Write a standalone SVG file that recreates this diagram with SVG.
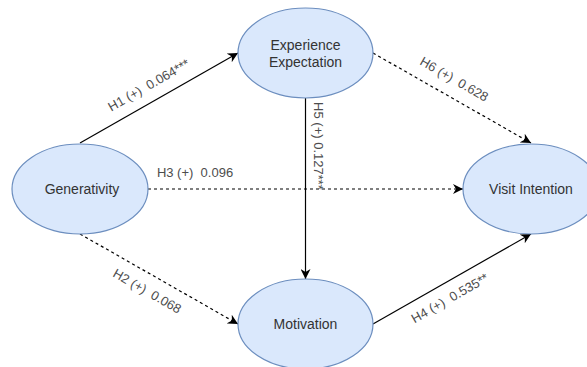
<svg xmlns="http://www.w3.org/2000/svg" width="587" height="367" viewBox="0 0 587 367">
<defs>
<marker id="arr" viewBox="0 0 10 10" refX="10" refY="5" markerWidth="10" markerHeight="10" markerUnits="userSpaceOnUse" orient="auto">
<path d="M0,0 L10,5 L0,10 L3,5 Z" fill="#000"/>
</marker>
<style>
.node{fill:#dae8fc;stroke:#6c8ebf;stroke-width:1.2}
.nt{font-family:"Liberation Sans",Arial,sans-serif;font-size:14px;fill:#333;text-anchor:middle}
.lt{font-family:"Liberation Sans",Arial,sans-serif;font-size:13px;fill:#4d4d4d;text-anchor:middle;white-space:pre}
.c{stroke:#000;stroke-width:1.2;fill:none;marker-end:url(#arr)}
.d{stroke-dasharray:3 3}
</style>
</defs>
<rect width="587" height="367" fill="#fff"/>
<g id="connectors">
<line class="c" x1="80" y1="143" x2="238" y2="53"/>
<line class="c d" x1="373" y1="53" x2="531" y2="143"/>
<line class="c d" x1="148" y1="189" x2="463" y2="189"/>
<line class="c d" x1="80" y1="234" x2="238" y2="324"/>
<line class="c" x1="373" y1="324" x2="531" y2="234"/>
<line class="c" x1="305.5" y1="98" x2="305.5" y2="279"/>
<text class="lt" xml:space="preserve" transform="translate(151,89) rotate(-29.7)">H1 (+)  0.064***</text>
<text class="lt" xml:space="preserve" transform="translate(452,83) rotate(29.7)">H6 (+)  0.628</text>
<text class="lt" xml:space="preserve" x="195" y="177">H3 (+)  0.096</text>
<text class="lt" xml:space="preserve" transform="translate(145,295) rotate(29.7)">H2 (+)  0.068</text>
<text class="lt" xml:space="preserve" transform="translate(452,302) rotate(-29.7)">H4 (+)  0.535**</text>
<text class="lt" xml:space="preserve" transform="translate(314,146) rotate(90)">H5 (+) 0.127***</text>
</g>
<g id="generativity">
<ellipse class="node" cx="80" cy="189" rx="68" ry="45"/>
<text class="nt" x="82" y="194">Generativity</text>
</g>
<g id="experience">
<ellipse class="node" cx="305.5" cy="53" rx="67.5" ry="45"/>
<text class="nt" x="305.5" y="50">Experience</text>
<text class="nt" x="305.5" y="67">Expectation</text>
</g>
<g id="visit">
<ellipse class="node" cx="531" cy="189" rx="68" ry="45"/>
<text class="nt" x="531" y="194">Visit Intention</text>
</g>
<g id="motivation">
<ellipse class="node" cx="305.5" cy="324" rx="67.5" ry="45"/>
<text class="nt" x="305.5" y="329">Motivation</text>
</g>
</svg>
